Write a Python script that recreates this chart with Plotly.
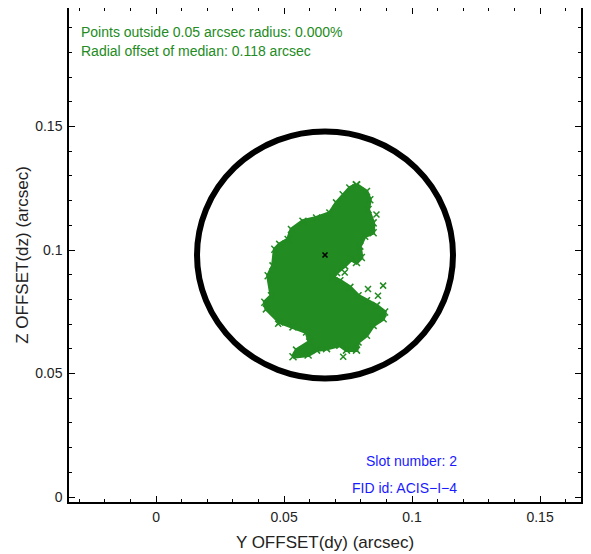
import plotly.graph_objects as go

# fid offset cloud, outline of the dense region (arcsec)
cloud_dy = [0.0783, 0.0822, 0.0835, 0.0828, 0.0848, 0.0848, 0.0815, 0.0796, 0.0802, 0.0783,
            0.0763, 0.0737, 0.0705, 0.0691, 0.0718, 0.0757, 0.0789, 0.0822, 0.0861, 0.0893,
            0.0887, 0.0848, 0.0822, 0.0789, 0.0783, 0.0744, 0.0718, 0.0666, 0.0627, 0.0594,
            0.0535, 0.0549, 0.0600, 0.0588, 0.0535, 0.0483, 0.0431, 0.0425, 0.0451, 0.0438,
            0.0457, 0.0464, 0.0483, 0.0516, 0.0529, 0.0574, 0.0627, 0.0679, 0.0705, 0.0731,
            0.0757]
cloud_dz = [0.1264, 0.1237, 0.1204, 0.1164, 0.1110, 0.1070, 0.1056, 0.1016, 0.0970, 0.0950,
            0.0963, 0.0936, 0.0909, 0.0889, 0.0876, 0.0849, 0.0815, 0.0795, 0.0775, 0.0749,
            0.0722, 0.0695, 0.0655, 0.0628, 0.0595, 0.0595, 0.0615, 0.0601, 0.0595, 0.0575,
            0.0568, 0.0595, 0.0628, 0.0668, 0.0689, 0.0709, 0.0762, 0.0789, 0.0815, 0.0896,
            0.0936, 0.1003, 0.1023, 0.1043, 0.1083, 0.1117, 0.1130, 0.1150, 0.1191, 0.1224,
            0.1251]

# isolated points away from the main cloud
stray_dy = [0.0861, 0.0737, 0.0887, 0.0828, 0.0867, 0.0731, 0.0477]
stray_dz = [0.1144, 0.0909, 0.0856, 0.0842, 0.0815, 0.0568, 0.0702]

median_dy = 0.066
median_dz = 0.098
radius = 0.05
pct_outside = 0.000
radial_offset = 0.118
slot = 2
fid_id = "ACIS−I−4"

GREEN = "#228B22"
FONT = "Liberation Sans, Arial, Helvetica"

fig = go.Figure()

fig.add_trace(go.Scatter(
    x=cloud_dy + cloud_dy[:1], y=cloud_dz + cloud_dz[:1],
    mode="lines+markers", fill="toself", fillcolor=GREEN,
    line=dict(color=GREEN, width=4),
    marker=dict(symbol="x-thin", size=7, line=dict(color=GREEN, width=1.5)),
    showlegend=False, hoverinfo="skip",
))
fig.add_trace(go.Scatter(
    x=stray_dy, y=stray_dz, mode="markers",
    marker=dict(symbol="x-thin", size=6, line=dict(color=GREEN, width=1.5)),
    showlegend=False,
))
fig.add_trace(go.Scatter(
    x=[median_dy], y=[median_dz], mode="markers",
    marker=dict(symbol="x-thin", size=5, line=dict(color="black", width=1.5)),
    showlegend=False,
))

fig.add_shape(type="circle", xref="x", yref="y",
              x0=median_dy - radius, x1=median_dy + radius,
              y0=median_dz - radius, y1=median_dz + radius,
              line=dict(color="black", width=6))

green_font = dict(family=FONT, size=14, color=GREEN)
blue_font = dict(family=FONT, size=14, color="#1a1aff")
fig.add_annotation(xref="paper", yref="paper", x=0.0195, y=0.951, xanchor="left", yanchor="middle",
                   text=f"Points outside {radius} arcsec radius: {pct_outside:.3f}%",
                   showarrow=False, font=green_font)
fig.add_annotation(xref="paper", yref="paper", x=0.0195, y=0.913, xanchor="left", yanchor="middle",
                   text=f"Radial offset of median: {radial_offset} arcsec",
                   showarrow=False, font=green_font)
fig.add_annotation(xref="paper", yref="paper", x=0.762, y=0.083, xanchor="right", yanchor="middle",
                   text=f"Slot number: {slot}", showarrow=False, font=blue_font)
fig.add_annotation(xref="paper", yref="paper", x=0.762, y=0.028, xanchor="right", yanchor="middle",
                   text=f"FID id: {fid_id}", showarrow=False, font=blue_font)

axis_common = dict(
    showgrid=False, zeroline=False, showline=True, linecolor="black", linewidth=1.5,
    mirror="ticks", ticks="inside", ticklen=6, tickcolor="black", tickwidth=1,
    tickfont=dict(family=FONT, size=14, color="#222"),
    minor=dict(dtick=0.01, ticks="inside", ticklen=3, tickcolor="black", tickwidth=1),
    automargin=False,
)

fig.update_xaxes(**axis_common, range=[median_dy - 0.1, median_dy + 0.1],
                 tickvals=[0, 0.05, 0.1, 0.15], ticktext=["0", "0.05", "0.1", "0.15"],
                 ticklabelstandoff=1,
                 title=dict(text="Y OFFSET(dy) (arcsec)", standoff=13,
                            font=dict(family=FONT, size=17, color="#222")))
fig.update_yaxes(**axis_common, range=[median_dz - 0.1, median_dz + 0.1],
                 tickvals=[0, 0.05, 0.1, 0.15], ticktext=["0", "0.05", "0.1", "0.15"],
                 ticklabelstandoff=2,
                 title=dict(text="Z OFFSET(dz) (arcsec)", standoff=2,
                            font=dict(family=FONT, size=17, color="#222")))

# page body adds an 8px offset, so the figure is sized to fit the window
fig.update_layout(
    width=583, height=546,
    plot_bgcolor="white", paper_bgcolor="white",
    margin=dict(l=61, r=10, t=0, b=52),
)

fig.write_html("out.html")
